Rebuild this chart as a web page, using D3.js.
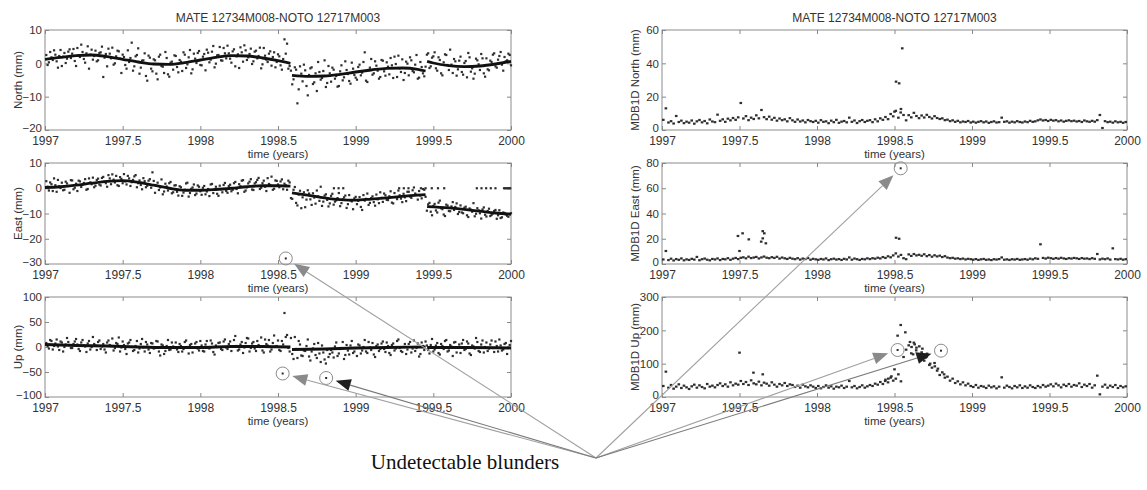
<!DOCTYPE html>
<html>
<head>
<meta charset="utf-8">
<script src="https://cdn.jsdelivr.net/npm/d3@7"></script>
<style>
body { margin: 0; background: #fff; }
svg text { font-family: "Liberation Sans", Arial, sans-serif; fill: #333; }
.tick text { fill: #333; }
.tick line { stroke: #888; }
</style>
</head>
<body>
<div id="chart"></div>
<script>
// solutions are read every 1/60 year from 1997; a second set sits half a step later
var t0 = 1997, dt = 1 / 60;

var xTicks = [1997, 1997.5, 1998, 1998.5, 1999, 1999.5, 2000];
var titleText = "MATE 12734M008-NOTO 12717M003";

// left column: coordinate residuals (mm)
var northVals = [
  2.5, 0.3, 1.8, 3.9, 0.6, 2.2, -0.8, 3.1, 1.4, 4.2,
  2.9, 0.7, 4.6, 1.9, 3.4, 0.2, 5.1, 2.6, 1.1, 3.8,
  0.9, 3.3, -4.1, 2.8, 4.4, 1.5, -0.4, 2.1, 3.6, -2.9,
  1.9, -1.6, 0.4, 6.2, -0.9, 2.5, -3.1, 0.8, 3.0, -5.2,
  1.7, -2.4, 0.9, -4.8, 2.6, -1.0, 3.4, -3.3, 0.2, -1.9,
  2.2, -2.7, 0.5, 3.3, -1.4, 1.8, -3.0, 2.9, 0.1, 3.7,
  -0.6, 2.8, 4.1, 0.3, 3.5, -1.2, 2.4, 4.9, 0.8, 3.0,
  5.3, 1.4, 3.6, -0.9, 2.7, 4.8, 0.5, 3.9, 1.8, 4.4,
  0.6, 3.8, 2.2, -1.5, 4.6, 1.1, 2.9, -0.7, 3.3, 0.4,
  2.1, -1.9, 7.2, 5.9, -0.8, -6.3, -1.2, -12.0, -0.9, -5.4,
  -2.1, -9.6, -1.5, -6.2, -3.0, 0.4, -4.9, -2.3, -7.1, -0.8,
  -5.5, -1.9, -3.8, -6.8, -0.6, -4.2, -2.0, -5.3, 0.2, -3.5,
  -4.9, -0.4, -2.8, 3.3, -5.6, -1.3, -3.4, 0.6, -2.2, -4.1,
  0.8, -3.7, -1.0, 1.6, -4.4, -0.2, 2.3, -2.6, -5.0, 0.5,
  -3.6, 0.9, -2.7, 2.5, -4.3, -1.1, -3.9, 2.6, -1.4, 1.7,
  3.3, -2.2, 1.0, -3.6, 2.7, -0.5, 4.1, -2.9, 0.6, -1.8,
  2.0, -3.4, 0.7, 3.1, -2.5, -4.6, 1.4, -0.3, 2.8, -3.0,
  1.5, -2.1, 0.4, 3.0, -1.3, 2.2, -0.4, 1.9, 0.9, 2.5
];
var northVals2 = [
  -0.5, 3.4, 1.0, 2.6, -1.3, 4.0, 2.0, 0.1, 3.5, 1.6,
  4.3, -0.8, 2.4, 5.6, 1.3, 3.0, -1.6, 4.1, 2.2, 0.6,
  3.1, 5.0, 1.7, -0.9, 2.9, 4.7, 0.0, 3.8, 1.4, 2.6,
  -0.5, 3.9, 1.6, -2.2, 2.1, 4.5, -1.3, 0.9, -3.8, 2.3,
  -1.6, 1.2, -3.1, 2.0, -0.8, -2.9, 1.6, -4.0, 0.5, 2.4,
  -1.1, 1.0, -2.3, 2.6, -0.3, 4.0, -1.8, 1.4, 3.1, -0.5,
  2.0, -2.1, 3.2, 1.1, 5.2, -0.1, 2.5, 0.9, 4.6, 1.5,
  3.0, 0.2, 4.2, 2.1, -1.4, 3.3, 5.4, 1.0, 2.8, -0.2,
  3.5, 1.5, 4.7, -0.3, 2.3, 0.4, 3.6, 1.9, -1.2, 2.7,
  -0.6, 1.3, 2.9, -1.6, -2.2, -4.8, -1.9, -7.8, -3.1, -0.4,
  -6.8, -3.5, -1.2, -5.7, -8.3, -2.6, -4.4, 0.9, -5.9, -3.0,
  -1.3, -4.6, -7.0, -2.4, -5.1, 0.6, -3.2, -6.1, -1.6, -4.3,
  -1.1, -3.6, 0.4, -5.2, -2.0, 1.3, -3.0, -0.7, -4.6, 1.0,
  -2.4, 0.3, -3.3, -0.6, 2.0, -4.1, -1.5, 1.2, -2.9, -0.1,
  1.8, -2.3, -0.4, -4.6, 0.4, -3.0, -1.0, 3.0, -0.9, 2.1,
  -1.5, 1.8, -3.0, 0.3, 2.5, -2.0, -0.4, 1.3, -3.7, 0.8,
  -2.6, 0.1, -4.2, 1.8, -1.5, -3.1, 0.9, -2.0, 1.5, -4.0,
  -1.8, 0.8, 2.6, -0.9, 1.1, 3.4, -2.2, 0.6, 2.9, -0.6
];
var eastVals = [
  2.8, -0.9, 1.6, 3.9, -1.4, 0.8, 2.2, -0.6, 1.9, -1.8,
  3.1, 0.2, -1.1, 2.7, 1.4, 3.6, -0.3, 2.3, 4.2, 1.0,
  3.8, 1.1, 4.5, 2.0, 5.2, 1.6, 3.4, 4.9, 0.9, 3.7,
  5.6, 1.5, 3.9, 2.4, 4.7, 0.4, 3.1, -0.4, 2.8, 1.0,
  3.6, 6.3, -1.8, 2.2, 0.3, -2.4, 1.8, -0.9, 2.5, -1.6,
  1.2, -2.9, 0.4, -1.7, 1.9, -3.3, -0.2, 1.5, -2.1, 0.6,
  -2.6, 0.9, -1.3, -3.1, 1.7, -0.5, -2.2, 1.0, -1.6, 2.1,
  -1.8, 1.4, -0.6, 2.5, -2.0, 0.8, 3.2, -0.9, 1.9, 3.6,
  -0.7, 2.4, 4.1, 0.2, 3.0, -1.1, 1.7, 4.6, -0.2, 2.9,
  0.4, 3.5, 1.8, -0.6, 2.3, -4.2, 0.5, -6.8, -1.0, -3.6,
  -7.5, -0.8, -4.4, -2.0, -6.1, -3.2, 0.6, -5.3, -2.4, -7.2,
  -3.0, -6.5, -4.8, -1.9, -5.9, -3.6, -7.8, -2.7, -5.2, -4.0,
  -6.3, -3.5, -8.6, -4.9, -2.1, -5.8, -3.2, -6.9, -4.4, -1.6,
  -5.4, -2.8, -4.7, -1.2, -6.0, -3.5, -0.9, -4.1, -2.2, -5.1,
  -1.4, -3.8, 0.3, -2.6, -1.1, -4.0, -0.6, -8.9, -5.8, -10.7,
  -6.2, -9.6, -4.9, -8.3, -11.0, -6.9, -9.1, -5.5, -7.4, -10.2,
  -6.8, -9.9, -7.3, -11.4, -8.5, -5.9, -10.1, -8.8, -12.0, -7.6,
  -11.2, -8.1, -10.6, -9.0, -12.1, -8.7, -11.5, -9.8, -10.9, -10.1
];
var eastVals2 = [
  0.6, 2.3, -1.1, 1.2, 3.3, 0.1, -0.8, 2.6, 0.9, 3.2,
  -0.4, 1.8, 3.0, 0.5, 2.1, -0.6, 3.9, 1.6, 0.4, 3.3,
  1.5, 4.1, 2.6, 0.6, 3.9, 5.5, 2.3, 1.2, 4.4, 2.0,
  2.7, 4.9, 0.9, 3.3, 5.2, 2.0, 1.3, 4.0, 0.4, 3.0,
  0.2, 2.9, 1.0, -0.7, 3.5, -1.3, 0.7, 2.0, -2.0, 1.1,
  -1.4, 0.8, -3.0, -0.6, 2.2, -1.9, 0.3, -2.7, 1.1, -1.2,
  0.2, -2.4, -0.3, 1.5, -1.9, 0.6, -3.0, -0.4, 1.3, -1.1,
  0.9, -1.2, 2.0, -0.3, 1.6, 3.0, -1.4, 0.4, 2.6, -0.5,
  1.9, 3.3, -0.3, 2.0, 0.6, 4.0, 1.3, -0.6, 3.1, 1.5,
  2.7, -0.4, 1.2, 3.0, -3.9, -0.6, -5.8, -2.5, -7.9, -1.6,
  -4.5, -2.1, -6.6, -3.7, -0.9, -5.0, -7.0, -2.9, -4.6, -6.0,
  -2.2, -5.3, -3.9, -7.1, -4.4, -2.9, -6.3, -4.8, -8.3, -3.4,
  -5.0, -7.4, -2.7, -4.2, -6.6, -3.9, -5.5, -2.5, -5.9, -3.8,
  -2.1, -4.6, -3.2, -5.7, -1.9, -4.3, -2.8, -5.5, -3.6, -1.4,
  -3.3, -0.8, -2.1, -4.5, -2.9, -0.3, -3.4, -6.4, -9.3, -7.0,
  -8.8, -5.7, -7.9, -10.4, -6.5, -9.0, -7.2, -8.6, -6.0, -9.4,
  -9.6, -7.7, -10.7, -8.0, -9.3, -11.1, -7.9, -9.9, -8.4, -10.5,
  -9.0, -11.0, -10.0, -8.6, -10.7, -11.8, -9.6, -10.4, -11.3, -9.9
];
// epochs where the East solution sits flat at 0
var eastZeroT = [1998.86, 1998.89, 1998.92, 1999.28, 1999.31, 1999.34, 1999.42, 1999.45,
  1999.49, 1999.53, 1999.57, 1999.78, 1999.81, 1999.84, 1999.87, 1999.90,
  1999.955, 1999.963, 1999.971, 1999.979, 1999.987, 1999.995];
var upVals = [
  8, -3, 12, 2, 15, -6, 9, 0, 18, 4,
  -2, 11, 5, -8, 14, 1, 7, -5, 20, 3,
  10, -4, 6, -11, 13, 2, -7, 8, 19, -1,
  4, -14, 9, 0, -6, 12, -3, 16, -9, 5,
  -12, 7, -2, 11, -17, 3, -8, 14, -5, 1,
  9, -10, 2, -4, 13, -13, 6, -1, 10, -7,
  3, -9, 12, -3, 7, -15, 0, 9, -6, 15,
  -4, 11, 1, 22, -7, 5, -12, 8, 17, -2,
  10, -8, 4, 19, -11, 6, 14, -5, 23, 2,
  -6, 12, 68, 24, -9, -14, 20, -22, 5, -18,
  -8, 15, -27, -3, -16, 8, -30, -11, -33, -20,
  -6, -21, 9, -13, -2, -24, 4, -15, 12, -9,
  -18, 3, -7, 14, -12, -1, 8, -20, 5, -4,
  11, -10, 2, -16, 7, -3, 15, -8, 0, -14,
  6, -11, 13, -2, -19, 9, -6, 3, -13, 16,
  -5, 8, -15, 2, 12, -9, 4, -18, 10, -1,
  -12, 14, -4, 7, -16, 1, 18, -8, 5, -11,
  9, -3, 13, -10, 2, 15, -7, 6, -14, 4
];
var upVals2 = [
  2, 14, -5, 7, 1, 11, -9, 5, 10, -2,
  6, 16, -4, 9, 3, -10, 12, 0, 6, -6,
  13, 1, -5, 9, 4, 17, -2, 6, -9, 11,
  -4, 7, 14, -8, 2, -11, 6, -1, 10, -5,
  8, -3, 12, -9, 5, -14, 2, -6, 9, -2,
  -5, 6, -9, 10, 0, 4, -11, 7, -3, 12,
  -8, 5, -1, 13, -10, 3, 8, -4, 11, -1,
  6, -8, 14, 2, -5, 10, -1, 18, -9, 7,
  -3, 12, 0, -7, 15, 3, -9, 8, 1, 13,
  -8, 5, 20, -2, 18, -24, -4, 12, -17, -7,
  2, -19, -9, 6, -22, -13, 3, -25, -6, -14,
  -11, 1, -18, -4, 10, -16, -7, 3, -12, -2,
  5, -13, 0, -9, 10, -6, -15, 2, -8, 7,
  -4, 9, -12, 4, -7, 12, -2, -10, 6, -5,
  10, -3, -8, 7, -14, 2, 11, -6, 4, -9,
  3, -12, 6, -4, 14, -7, 1, 9, -11, 5,
  7, -6, 11, -13, 3, -3, 10, -10, 13, 0,
  -8, 5, -2, 11, -9, 3, -5, 8, -1, 12
];

// fitted curves, one array per segment between the offsets: [year, mm]
var northCurve = [
  [[1997.0, 1.2], [1997.1, 1.8], [1997.2, 2.3], [1997.3, 2.5], [1997.4, 2.0], [1997.5, 1.2],
   [1997.6, 0.4], [1997.7, -0.2], [1997.8, -0.3], [1997.9, 0.2], [1998.0, 1.0], [1998.1, 1.8],
   [1998.2, 2.3], [1998.3, 2.2], [1998.4, 1.6], [1998.5, 0.8], [1998.58, 0.0]],
  [[1998.59, -3.6], [1998.7, -3.9], [1998.8, -3.8], [1998.9, -3.3], [1999.0, -2.6], [1999.1, -2.0],
   [1999.2, -1.5], [1999.3, -1.4], [1999.4, -1.8], [1999.45, -2.3]],
  [[1999.46, 0.6], [1999.5, 0.1], [1999.6, -0.7], [1999.7, -1.0], [1999.8, -0.8], [1999.9, -0.2], [2000.0, 0.6]]
];
var eastCurve = [
  [[1997.0, 0.3], [1997.1, 0.6], [1997.2, 1.2], [1997.3, 2.0], [1997.4, 2.7], [1997.5, 3.0],
   [1997.6, 2.3], [1997.7, 1.2], [1997.8, 0.0], [1997.9, -0.8], [1998.0, -0.8], [1998.1, -0.5],
   [1998.2, 0.0], [1998.3, 0.6], [1998.4, 1.0], [1998.5, 1.0], [1998.58, 0.8]],
  [[1998.59, -1.8], [1998.7, -2.8], [1998.8, -3.8], [1998.9, -4.5], [1999.0, -4.7], [1999.1, -4.3],
   [1999.2, -3.8], [1999.3, -3.2], [1999.4, -2.7], [1999.45, -2.5]],
  [[1999.46, -7.3], [1999.6, -7.8], [1999.7, -8.4], [1999.8, -9.1], [1999.9, -9.8], [2000.0, -10.3]]
];
var upCurve = [
  [[1997.0, 5], [1997.2, 3], [1997.4, 2], [1997.6, 0], [1997.8, -1], [1998.0, -1], [1998.2, 1],
   [1998.4, 1], [1998.58, 0]],
  [[1998.59, -5], [1998.8, -4], [1999.0, -2], [1999.2, -1], [1999.45, 0]],
  [[1999.46, -1], [1999.7, -1], [2000.0, -2]]
];

// right column: minimal detectable bias (mm)
var mdbNorthVals = [
  6.1, 13.0, 4.5, 5.3, 3.9, 8.4, 4.8, 5.6, 4.1, 5.0,
  4.4, 5.7, 3.8, 5.2, 6.0, 4.6, 5.4, 4.0, 6.3, 5.1,
  4.7, 9.2, 5.5, 6.4, 4.9, 6.8, 5.8, 7.2, 6.1, 7.6,
  16.2, 6.9, 8.3, 5.9, 7.4, 6.6, 8.8, 7.0, 12.0, 7.7,
  6.5, 8.0, 6.2, 7.3, 5.6, 6.9, 5.9, 6.4, 5.2, 7.1,
  5.8, 4.9, 6.3, 5.1, 5.7, 4.6, 6.0, 5.3, 4.8, 5.5,
  4.4, 5.9, 4.9, 5.2, 4.1, 5.6, 4.7, 6.1, 4.3, 5.0,
  5.4, 4.6, 7.4, 4.9, 5.7, 4.2, 5.3, 6.0, 4.8, 5.5,
  5.9, 4.7, 6.4, 5.2, 7.0, 6.1, 7.8, 6.5, 9.6, 8.2,
  11.5, 7.4, 12.6, 9.0, 5.8, 8.9, 7.6, 10.3, 8.4, 7.1,
  8.7, 7.5, 9.1, 7.8, 6.9, 8.3, 7.2, 6.6, 7.0, 5.9,
  6.2, 5.3, 5.8, 4.9, 5.5, 4.6, 5.1, 4.8, 5.4, 4.5,
  5.0, 4.4, 4.9, 5.3, 4.6, 5.1, 4.3, 4.8, 5.2, 4.5,
  4.7, 7.4, 4.9, 5.2, 4.4, 5.0, 4.6, 5.3, 4.8, 4.5,
  5.1, 4.7, 5.5, 4.9, 5.2, 5.8, 6.3, 5.7, 6.0, 5.4,
  6.1, 5.6, 5.9, 5.2, 5.7, 5.0, 5.5, 5.8, 5.3, 5.6,
  5.1, 5.4, 4.8, 5.7, 5.2, 4.9, 5.5, 5.0, 5.9, 9.0,
  1.2, 5.3, 4.7, 5.0, 4.4, 5.2, 4.6, 4.9, 4.3, 4.8
];
var mdbNorthExtra = [[1998.51, 29], [1998.53, 28], [1998.55, 49], [1998.50, 11], [1998.54, 10.5]];
var mdbEastVals = [
  3.6, 10.3, 3.1, 4.2, 2.8, 3.9, 3.3, 4.4, 2.9, 3.7,
  3.2, 4.1, 3.5, 5.6, 3.0, 3.8, 4.3, 3.4, 2.9, 4.0,
  3.6, 4.4, 3.1, 4.0, 3.7, 4.6, 3.3, 4.2, 4.8, 3.9,
  4.9, 5.3, 4.5, 5.8, 4.7, 5.1, 5.6, 4.4, 5.2, 5.9,
  5.0, 4.6, 5.4, 4.8, 5.7, 4.3, 5.1, 4.5, 4.0, 4.9,
  4.2, 3.8, 4.6, 3.5, 4.3, 3.9, 4.7, 3.4, 4.1, 3.7,
  3.3, 4.0, 3.6, 4.4, 3.1, 3.8, 4.2, 3.5, 3.9, 3.2,
  4.1, 3.6, 5.2, 3.4, 4.3, 3.8, 3.2, 4.0, 3.7, 4.5,
  3.9, 4.6, 4.2, 5.0, 4.4, 5.5, 4.8, 6.1, 5.3, 6.8,
  8.4, 5.9, 7.2, 4.6, 3.8, 7.6, 6.4, 7.9, 6.8, 7.3,
  6.5, 7.7, 6.2, 7.1, 5.8, 6.9, 6.0, 6.6, 5.5, 6.2,
  5.1, 4.6, 4.9, 4.2, 4.5, 3.9, 4.3, 3.6, 4.1, 3.8,
  3.4, 3.9, 3.2, 3.7, 4.0, 3.3, 3.6, 3.1, 3.8, 3.5,
  3.9, 5.2, 3.4, 3.7, 3.2, 3.8, 3.5, 4.0, 3.3, 3.6,
  3.9, 3.4, 4.2, 3.7, 4.5, 4.1, 15.6, 4.8, 4.3, 5.0,
  4.6, 4.1, 4.7, 4.2, 4.9, 4.4, 4.0, 4.6, 4.3, 4.8,
  4.5, 4.0, 4.7, 4.2, 4.4, 3.9, 4.6, 4.1, 7.9, 3.6,
  4.2, 3.8, 4.4, 3.5, 12.4, 3.9, 3.6, 4.1, 3.4, 3.8
];
var mdbEastExtra = [[1997.49, 22.2], [1997.50, 10.3], [1997.52, 24.3], [1997.56, 19.5], [1997.64, 17.7],
  [1997.65, 20.3], [1997.65, 26.0], [1997.66, 24.3], [1997.67, 16.4], [1998.51, 20.8], [1998.53, 20.0]];
var mdbUpVals = [
  33, 76, 28, 36, 25, 31, 38, 27, 34, 29,
  24, 32, 37, 28, 35, 30, 26, 39, 31, 34,
  29, 36, 41, 33, 38, 31, 44, 35, 40, 37,
  48, 39, 45, 36, 50, 41, 38, 46, 35, 43,
  40, 34, 44, 37, 31, 39, 35, 42, 33, 38,
  36, 30, 34, 28, 37, 32, 29, 35, 31, 27,
  33, 26, 30, 35, 28, 32, 25, 31, 29, 34,
  27, 31, 48, 29, 33, 26, 30, 35, 28, 32,
  36, 33, 40, 37, 45, 39, 52, 44, 58, 49,
  55, 68, 47, 120, 142, 155, 131, 163, 148, 126,
  134, 109, 121, 96, 88, 102, 79, 66, 74, 58,
  61, 49, 55, 42, 47, 38, 44, 35, 40, 33,
  30, 36, 28, 33, 31, 27, 34, 29, 32, 26,
  31, 59, 28, 34, 30, 26, 33, 29, 35, 27,
  32, 28, 35, 30, 27, 33, 29, 36, 31, 34,
  38, 32, 40, 35, 29, 37, 33, 39, 31, 36,
  34, 41, 30, 37, 33, 39, 28, 35, 64, 8,
  31, 37, 28, 34, 30, 36, 27, 33, 29, 32
];
var mdbUpExtra = [[1997.50, 133], [1997.59, 73], [1997.65, 68], [1998.44, 48], [1998.46, 55], [1998.48, 62],
  [1998.50, 83], [1998.52, 184], [1998.54, 216], [1998.57, 194], [1998.60, 165], [1998.61, 150],
  [1998.62, 128], [1998.63, 158], [1998.64, 140], [1998.66, 152], [1998.68, 145], [1998.70, 118],
  [1998.71, 130], [1998.73, 100], [1998.76, 92], [1998.78, 85], [1998.82, 68]];

// circled blunders [year, value]
var eastBlunders = [[1998.55, -27.8]];
var upBlunders = [[1998.53, -53], [1998.81, -62]];
var mdbEastBlunders = [[1998.54, 75.8]];
var mdbUpBlunders = [[1998.52, 141], [1998.80, 139]];

var svg = d3.select("#chart").append("svg").attr("width", 1147).attr("height", 490);

var epochs = northVals.map((d, i) => t0 + (i + 0.5) * dt);
var epochs2 = northVals2.map((d, i) => t0 + (i + 1) * dt);

var cols = [[45, 511], [662, 1127]];
var rows = [[30, 130], [163, 264], [297, 397]];

var panels = [
  {col: 0, row: 0, domain: [-20, 10], ticks: [-20, -10, 0, 10], label: "North (mm)", vals: northVals, vals2: northVals2, curve: northCurve, title: true},
  {col: 0, row: 1, domain: [-30, 10], ticks: [-30, -20, -10, 0, 10], label: "East (mm)", vals: eastVals, vals2: eastVals2, extra: eastZeroT.map(t => [t, 0]), curve: eastCurve, circles: eastBlunders},
  {col: 0, row: 2, domain: [-100, 100], ticks: [-100, -50, 0, 50, 100], label: "Up (mm)", vals: upVals, vals2: upVals2, curve: upCurve, circles: upBlunders},
  {col: 1, row: 0, domain: [0, 60], ticks: [0, 20, 40, 60], label: "MDB1D North (mm)", vals: mdbNorthVals, extra: mdbNorthExtra, title: true},
  {col: 1, row: 1, domain: [0, 80], ticks: [0, 20, 40, 60, 80], label: "MDB1D East (mm)", vals: mdbEastVals, extra: mdbEastExtra, circles: mdbEastBlunders},
  {col: 1, row: 2, domain: [0, 300], ticks: [0, 100, 200, 300], label: "MDB1D Up (mm)", vals: mdbUpVals, extra: mdbUpExtra, circles: mdbUpBlunders}
];

var circlePx = [];

panels.forEach(function(p) {
  var x = d3.scaleLinear().domain([1997, 2000]).range(cols[p.col]);
  var y = d3.scaleLinear().domain(p.domain).range([rows[p.row][1], rows[p.row][0]]);
  var g = svg.append("g");
  var x0 = cols[p.col][0], x1 = cols[p.col][1], yT = rows[p.row][0], yB = rows[p.row][1];

  g.append("rect").attr("x", x0).attr("y", yT).attr("width", x1 - x0).attr("height", yB - yT)
    .attr("fill", "#fff").attr("stroke", "#8c8c8c").attr("stroke-width", 1);

  var bottom = g.append("g").attr("transform", `translate(0,${yB})`)
    .call(d3.axisBottom(x).tickValues(xTicks).tickFormat(d => d).tickSize(-4).tickPadding(6));
  var top = g.append("g").attr("transform", `translate(0,${yT})`)
    .call(d3.axisTop(x).tickValues(xTicks).tickFormat("").tickSize(-4));
  var left = g.append("g").attr("transform", `translate(${x0},0)`)
    .call(d3.axisLeft(y).tickValues(p.ticks).tickSize(-4).tickPadding(3));
  var right = g.append("g").attr("transform", `translate(${x1},0)`)
    .call(d3.axisRight(y).tickValues(p.ticks).tickFormat("").tickSize(-4));
  [bottom, top, left, right].forEach(a => a.select(".domain").remove());
  bottom.selectAll("text").attr("font-size", 12);
  // bottom label of the y axis is lifted a little so it clears the first year label
  left.selectAll("text").attr("font-size", 11.5)
    .attr("dy", d => d === p.domain[0] ? "0.1em" : "0.32em");

  g.append("text").attr("x", (x0 + x1) / 2).attr("y", yB + 28).attr("text-anchor", "middle")
    .attr("font-size", 11.5).text("time (years)");
  g.append("text").attr("transform", `translate(${x0 - 23},${(yT + yB) / 2}) rotate(-90)`)
    .attr("text-anchor", "middle").attr("font-size", 11.5).text(p.label);
  if (p.title) {
    g.append("text").attr("x", (x0 + x1) / 2).attr("y", yT - 8).attr("text-anchor", "middle")
      .attr("font-size", 12).text(titleText);
  }

  var pts = p.vals.map((v, i) => [epochs[i], v])
    .concat((p.vals2 || []).map((v, i) => [epochs2[i], v]))
    .concat(p.extra || []);
  var w = p.col === 1 ? 2.6 : 2.2;
  g.append("g").selectAll("rect").data(pts).enter().append("rect")
    .attr("x", d => x(d[0]) - w / 2).attr("y", d => y(d[1]) - 1.1)
    .attr("width", w).attr("height", 2.2).attr("fill", "#2e2e2e");

  if (p.curve) {
    var line = d3.line().x(d => x(d[0])).y(d => y(d[1])).curve(d3.curveMonotoneX);
    g.append("g").selectAll("path").data(p.curve).enter().append("path")
      .attr("d", line).attr("fill", "none").attr("stroke", "#111").attr("stroke-width", 2.8);
  }

  (p.circles || []).forEach(function(c, ci) {
    var cx = x(c[0]), cy = y(c[1]);
    g.append("circle").attr("cx", cx).attr("cy", cy).attr("r", 6.5)
      .attr("fill", "none").attr("stroke", "#8a8a8a").attr("stroke-width", 1);
    g.append("rect").attr("x", cx - 1).attr("y", cy - 1).attr("width", 2).attr("height", 2).attr("fill", "#2a2a2a");
    circlePx.push({x: cx, y: cy, dark: ci === 1});
  });
});

// annotation arrows from the caption to every circled blunder
var origin = [596, 458];
var arrows = svg.append("g");
circlePx.forEach(function(c) {
  var dx = origin[0] - c.x, dy = origin[1] - c.y;
  var len = Math.sqrt(dx * dx + dy * dy);
  var ux = dx / len, uy = dy / len;
  var tip = [c.x + ux * 10, c.y + uy * 10];
  var base = [tip[0] + ux * 15, tip[1] + uy * 15];
  var px = -uy * 6, py = ux * 6;
  arrows.append("line").attr("x1", origin[0]).attr("y1", origin[1]).attr("x2", base[0]).attr("y2", base[1])
    .attr("stroke", c.dark ? "#7a7a7a" : "#a0a0a0").attr("stroke-width", 1.1);
  arrows.append("path")
    .attr("d", `M${tip[0]},${tip[1]}L${base[0] + px},${base[1] + py}L${base[0] - px},${base[1] - py}Z`)
    .attr("fill", c.dark ? "#1e1e1e" : "#8a8a8a");
});

svg.append("text").attr("x", 465).attr("y", 469).attr("text-anchor", "middle")
  .style("font-family", "'Liberation Serif', 'Times New Roman', serif").attr("font-size", 21)
  .style("fill", "#111").text("Undetectable blunders");
</script>
</body>
</html>
